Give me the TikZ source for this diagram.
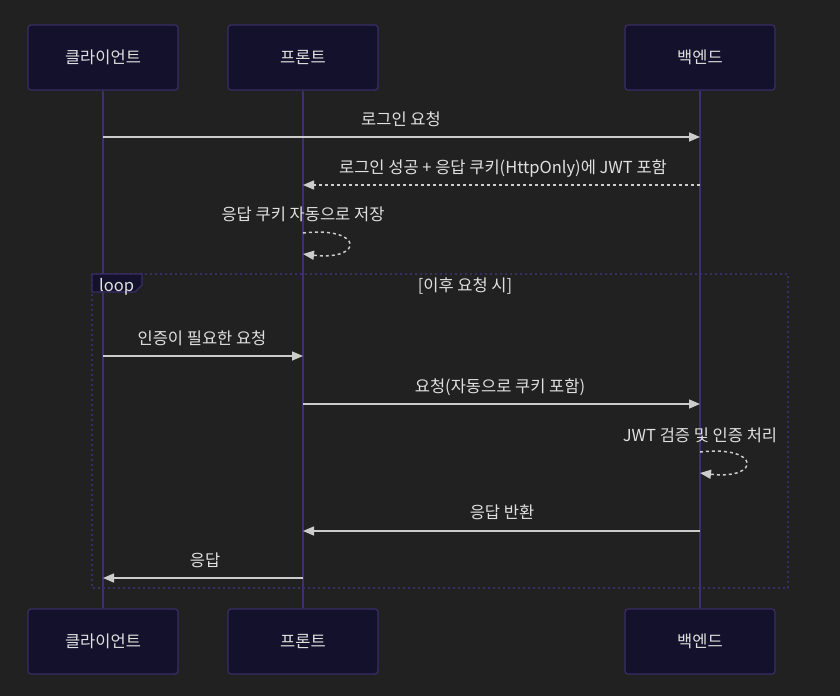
\documentclass[tikz,border=0pt]{standalone}
\usepackage{fontspec}
\setmainfont{Noto Sans CJK KR}
\usetikzlibrary{arrows.meta}
\definecolor{bg}{HTML}{212121}
\definecolor{boxfill}{HTML}{13112B}
\definecolor{boxline}{HTML}{3A2D66}
\definecolor{life}{HTML}{402D72}
\definecolor{msg}{HTML}{CCCCCC}
\definecolor{txt}{HTML}{E0E0E0}
\tikzset{
  actor/.style={draw=boxline, fill=boxfill, rounded corners=3pt, line width=1.3pt, minimum width=150pt, minimum height=65pt, text=txt, font=\fontsize{16.5}{19}\selectfont, inner sep=0pt},
  lifeline/.style={draw=life, line width=1.6pt},
  solidmsg/.style={draw=msg, line width=1.5pt, -{Triangle[length=11pt,width=9pt]}},
  dashmsg/.style={draw=msg, line width=1.5pt, dash pattern=on 3pt off 3pt, -{Triangle[length=11pt,width=9pt]}},
  lbl/.style={text=txt, font=\fontsize{16.5}{19}\selectfont, inner sep=0pt, anchor=base},
  loopbox/.style={draw=boxline, line width=1.6pt, dash pattern=on 2pt off 3pt},
}
\begin{document}
\begin{tikzpicture}[x=1pt,y=-1pt]
\fill[bg] (0,0) rectangle (840,696);
\useasboundingbox (0,0) rectangle (840,696);
% actors
\node[actor] (c1) at (103,57.5) {클라이언트};
\node[actor] (f1) at (303,57.5) {프론트};
\node[actor] (b1) at (700,57.5) {백엔드};
\node[actor] (c2) at (103,641.5) {클라이언트};
\node[actor] (f2) at (303,641.5) {프론트};
\node[actor] (b2) at (700,641.5) {백엔드};
\draw[lifeline] (c1.south) -- (c2.north);
\draw[lifeline] (f1.south) -- (f2.north);
\draw[lifeline] (b1.south) -- (b2.north);
% loop box
\draw[loopbox] (92,274) rectangle (788,588);
\fill[boxfill, draw=boxline, line width=1.3pt] (92,274) -- (142,274) -- (142,285) -- (135,292) -- (92,292) -- cycle;
\node[lbl, anchor=base west] (looplbl) at (99,291) {loop};
\node[lbl] (cond) at (465,291) {[이후 요청 시]};
% coordinates
\coordinate (c137) at (103,137); \coordinate (b137) at (700,137);
\coordinate (b185) at (700,185); \coordinate (f185) at (303,185);
\coordinate (f233) at (303,233); \coordinate (f254) at (303,254);
\coordinate (c356) at (103,356); \coordinate (f356) at (303,356);
\coordinate (f404) at (303,404); \coordinate (b404) at (700,404);
\coordinate (b452) at (700,452); \coordinate (b473) at (700,473);
\coordinate (b531) at (700,531); \coordinate (f531) at (303,531);
\coordinate (f578) at (303,578); \coordinate (c578) at (103,578);
% messages
\draw[solidmsg] (c137) -- (b137);
\node[lbl] (m1) at (401,125) {로그인 요청};
\draw[dashmsg] (b185) -- (f185);
\node[lbl] (m2) at (503,173) {로그인 성공 + 응답 쿠키(HttpOnly)에 JWT 포함};
\draw[dashmsg] (f233) .. controls (364,226) and (364,261) .. (f254);
\node[lbl] (m3) at (303,220) {응답 쿠키 자동으로 저장};
\draw[solidmsg] (c356) -- (f356);
\node[lbl] (m4) at (202,344) {인증이 필요한 요청};
\draw[solidmsg] (f404) -- (b404);
\node[lbl] (m5) at (500,392) {요청(자동으로 쿠키 포함)};
\draw[dashmsg] (b452) .. controls (761,445) and (761,480) .. (b473);
\node[lbl] (m6) at (700,441) {JWT 검증 및 인증 처리};
\draw[solidmsg] (b531) -- (f531);
\node[lbl] (m7) at (502,518) {응답 반환};
\draw[solidmsg] (f578) -- (c578);
\node[lbl] (m8) at (205,566) {응답};
\end{tikzpicture}
\end{document}
